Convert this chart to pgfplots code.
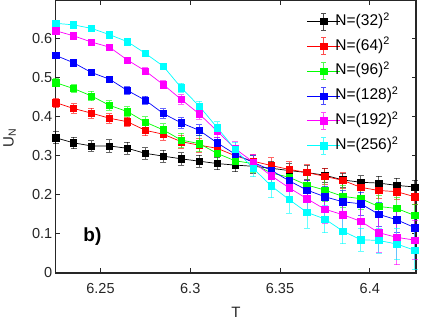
\documentclass[border=0pt]{standalone}
\usepackage{fontspec}
\setmainfont{Liberation Sans}
\usepackage{pgfplots}
\pgfplotsset{compat=1.18}
\usepackage{pgfplotstable}
\definecolor{cK}{rgb}{0,0,0}
\definecolor{cR}{rgb}{1,0,0}
\definecolor{cG}{rgb}{0,1,0}
\definecolor{cB}{rgb}{0,0,1}
\definecolor{cM}{rgb}{1,0,1}
\definecolor{cC}{rgb}{0,1,1}

\pgfplotstableread{
x y e
6.225 0.346 0.015
6.235 0.333 0.015
6.245 0.325 0.013
6.255 0.325 0.016
6.265 0.319 0.015
6.275 0.306 0.015
6.285 0.299 0.015
6.295 0.292 0.016
6.305 0.286 0.016
6.315 0.280 0.016
6.325 0.276 0.017
6.335 0.273 0.018
6.345 0.268 0.018
6.355 0.262 0.018
6.365 0.257 0.018
6.375 0.250 0.018
6.385 0.238 0.018
6.395 0.232 0.017
6.405 0.230 0.018
6.415 0.224 0.018
6.425 0.220 0.018
}\dataA
\pgfplotstableread{
x y e
6.225 0.436 0.012
6.235 0.421 0.012
6.245 0.409 0.013
6.255 0.396 0.012
6.265 0.387 0.012
6.275 0.365 0.014
6.285 0.355 0.015
6.295 0.336 0.016
6.305 0.327 0.018
6.315 0.319 0.018
6.325 0.300 0.018
6.335 0.286 0.018
6.345 0.275 0.020
6.355 0.265 0.020
6.365 0.257 0.020
6.375 0.247 0.020
6.385 0.237 0.020
6.395 0.219 0.020
6.405 0.211 0.020
6.415 0.208 0.020
6.425 0.195 0.020
}\dataB
\pgfplotstableread{
x y e
6.225 0.487 0.010
6.235 0.472 0.010
6.245 0.453 0.012
6.255 0.429 0.012
6.265 0.413 0.012
6.275 0.386 0.014
6.285 0.366 0.016
6.295 0.340 0.018
6.305 0.331 0.020
6.315 0.306 0.020
6.325 0.287 0.020
6.335 0.280 0.022
6.345 0.256 0.024
6.355 0.245 0.026
6.365 0.225 0.026
6.375 0.212 0.028
6.385 0.196 0.028
6.395 0.190 0.028
6.405 0.170 0.028
6.415 0.165 0.028
6.425 0.147 0.028
}\dataC
\pgfplotstableread{
x y e
6.225 0.557 0.006
6.235 0.538 0.006
6.245 0.513 0.007
6.255 0.496 0.008
6.265 0.467 0.010
6.275 0.442 0.010
6.285 0.408 0.012
6.295 0.384 0.013
6.305 0.365 0.014
6.315 0.333 0.015
6.325 0.304 0.016
6.335 0.283 0.018
6.345 0.263 0.020
6.355 0.236 0.022
6.365 0.212 0.025
6.375 0.195 0.026
6.385 0.182 0.028
6.395 0.177 0.030
6.405 0.150 0.030
6.415 0.136 0.032
6.425 0.116 0.032
}\dataD
\pgfplotstableread{
x y e
6.225 0.620 0.005
6.235 0.607 0.005
6.245 0.591 0.006
6.255 0.578 0.007
6.265 0.545 0.007
6.275 0.517 0.008
6.285 0.482 0.010
6.295 0.444 0.012
6.305 0.407 0.014
6.315 0.363 0.016
6.325 0.318 0.018
6.335 0.284 0.020
6.345 0.249 0.024
6.355 0.218 0.028
6.365 0.190 0.032
6.375 0.163 0.035
6.385 0.149 0.040
6.395 0.132 0.045
6.405 0.103 0.050
6.415 0.091 0.070
6.425 0.084 0.050
}\dataE
\pgfplotstableread{
x y e
6.225 0.639 0.005
6.235 0.635 0.005
6.245 0.626 0.005
6.255 0.610 0.006
6.265 0.592 0.006
6.275 0.562 0.008
6.285 0.529 0.008
6.295 0.474 0.012
6.305 0.427 0.012
6.315 0.372 0.015
6.325 0.316 0.018
6.335 0.268 0.022
6.345 0.223 0.030
6.355 0.188 0.035
6.365 0.155 0.040
6.375 0.138 0.035
6.385 0.107 0.032
6.395 0.085 0.030
6.405 0.083 0.032
6.415 0.074 0.040
6.425 0.058 0.050
}\dataF

\pgfplotsset{
  ser/.style={color=#1, mark=square*, mark size=3.2pt, line width=0.7pt,
    mark options={solid, fill=#1, line width=0.5pt},
    error bars/.cd, y dir=both, y explicit,
    error bar style={color=#1, opacity=0.6, line width=0.8pt},
    error mark options={color=#1, opacity=0.6, rotate=90, mark size=3pt, line width=0.8pt}},
}

\begin{document}
\begin{tikzpicture}
\begin{axis}[
  scale only axis, width=360pt, height=272pt,
  xmin=6.2251, xmax=6.4258, ymin=0, ymax=0.697,
  xtick={6.25,6.3,6.35,6.4}, ytick={0,0.1,0.2,0.3,0.4,0.5,0.6},
  /pgf/number format/assume math mode=true,
  tick align=inside, major tick length=4.5pt,
  tick style={line width=1pt, black!85},
  axis line style={line width=1.3pt, black!85},
  ticklabel style={font=\fontsize{14.5}{16}\selectfont, text=black!85},
  xticklabel style={yshift=-7pt},
  xlabel={T},
  every axis x label/.style={at={(axis description cs:0.5,-0.1434)}, anchor=center,
    font=\fontsize{15}{17}\selectfont, text=black!85},
  clip=false,
  legend cell align=left,
  legend style={draw=none, fill=white, at={(axis cs:6.3631,0.672)}, anchor=north west,
    font=\fontsize{15.5}{17}\selectfont, row sep=7pt, /tikz/column sep=-6pt,
    nodes={inner sep=1pt, text height=10.5pt, text depth=3pt}},
  legend image code/.code={
    \draw[#1] (0pt,0pt) -- (33pt,0pt);
    \draw[#1, opacity=0.7, line width=0.8pt] (16.5pt,-8.5pt) -- (16.5pt,8.5pt)
       (14pt,-8.5pt) -- (19pt,-8.5pt) (14pt,8.5pt) -- (19pt,8.5pt);
    \draw[#1] plot coordinates {(16.5pt,0pt)};
  },
]
\addplot[ser=cK] table[x=x, y=y, y error=e] {\dataA};
\addlegendentry{N=(32)\textsuperscript{2}}
\addplot[ser=cR] table[x=x, y=y, y error=e] {\dataB};
\addlegendentry{N=(64)\textsuperscript{2}}
\addplot[ser=cG] table[x=x, y=y, y error=e] {\dataC};
\addlegendentry{N=(96)\textsuperscript{2}}
\addplot[ser=cB] table[x=x, y=y, y error=e] {\dataD};
\addlegendentry{N=(128)\textsuperscript{2}}
\addplot[ser=cM] table[x=x, y=y, y error=e] {\dataE};
\addlegendentry{N=(192)\textsuperscript{2}}
\addplot[ser=cC] table[x=x, y=y, y error=e] {\dataF};
\addlegendentry{N=(256)\textsuperscript{2}}
\node[font=\bfseries\fontsize{19}{21}\selectfont, text=black] at (axis cs:6.2455,0.094) {b)};
\node[rotate=90, anchor=center, font=\fontsize{15}{17}\selectfont, text=black!85]
  at (axis description cs:-0.128,0.497) {U\textsubscript{N}};
\end{axis}
\end{tikzpicture}
\end{document}
